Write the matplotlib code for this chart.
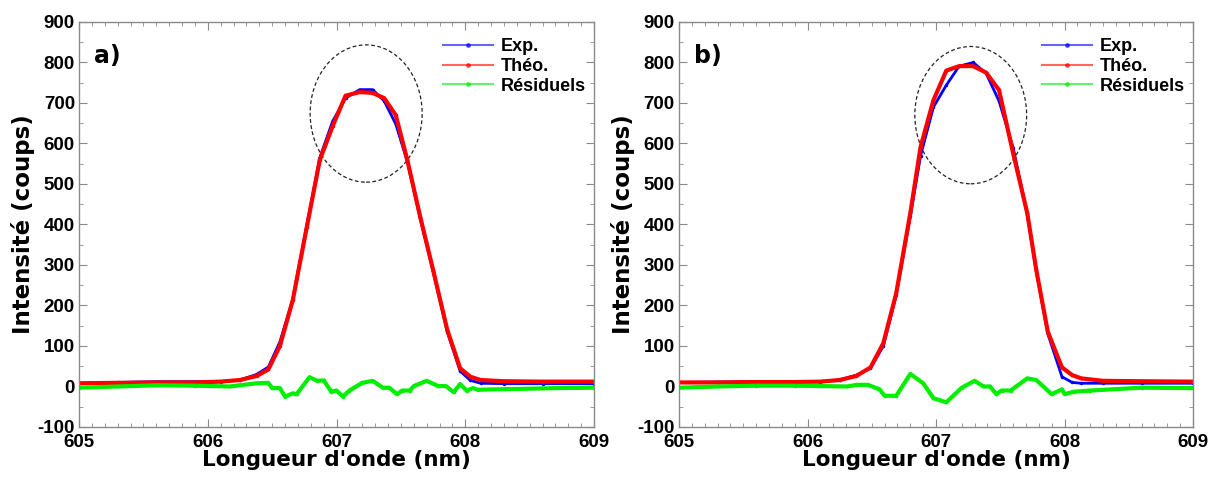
import matplotlib
matplotlib.use("Agg")
import matplotlib.pyplot as plt
from matplotlib.patches import Ellipse
from matplotlib.ticker import MultipleLocator

plt.rcParams["axes.unicode_minus"] = False

# ---- panel a) data ----
wl_a = [605.0, 605.3, 605.6, 605.9, 606.1, 606.25, 606.38, 606.47, 606.56, 606.66,
        606.77, 606.87, 606.97, 607.07, 607.18, 607.28, 607.37, 607.46, 607.55, 607.65,
        607.75, 607.86, 607.96, 608.04, 608.12, 608.3, 608.6, 609.0]
exp_a = [8, 10, 12, 12, 12, 16, 30, 48, 110, 215, 400, 565, 655, 712, 733, 733, 705, 648,
         555, 415, 285, 135, 38, 15, 8, 7, 7, 7]
theo_a = [8, 9, 10, 10, 12, 16, 26, 42, 100, 213, 395, 559, 643, 718, 727, 725, 712, 670,
          559, 419, 288, 140, 45, 24, 16, 13, 12, 12]
res_wl_a = [605.0, 605.3, 605.6, 605.9, 606.17, 606.38, 606.47, 606.50, 606.56, 606.60,
            606.66, 606.69, 606.79, 606.85, 606.90, 606.96, 607.00, 607.05, 607.10, 607.20,
            607.28, 607.36, 607.41, 607.47, 607.51, 607.57, 607.60, 607.70, 607.79, 607.85,
            607.91, 607.96, 608.01, 608.06, 608.1, 608.4, 608.7, 609.0]
res_a = [-3, 0, 3, 2, 0, 8, 9, -4, -4, -25, -17, -19, 23, 14, 15, -13, -10, -25, -10, 9,
         14, -3, -3, -19, -10, -10, 1, 14, 1, 1, -14, 6, -10, -4, -8, -6, -4, -3]

# ---- panel b) data ----
wl_b = [605.0, 605.3, 605.6, 605.9, 606.1, 606.25, 606.38, 606.49, 606.59, 606.69,
        606.80, 606.88, 606.98, 607.08, 607.18, 607.29, 607.39, 607.49, 607.60, 607.71,
        607.78, 607.87, 607.98, 608.06, 608.13, 608.3, 608.6, 609.0]
exp_b = [10, 11, 12, 12, 12, 16, 28, 45, 100, 225, 420, 570, 690, 744, 791, 800, 773, 705,
         590, 425, 285, 130, 24, 10, 8, 8, 8, 8]
theo_b = [10, 10, 11, 11, 12, 16, 26, 47, 107, 230, 428, 592, 707, 780, 791, 791, 775, 732,
          576, 428, 288, 135, 47, 28, 20, 14, 13, 12]
res_wl_b = [605.0, 605.3, 605.6, 605.9, 606.31, 606.38, 606.47, 606.56, 606.60, 606.69,
            606.80, 606.90, 606.98, 607.08, 607.20, 607.30, 607.37, 607.42, 607.47, 607.51,
            607.58, 607.71, 607.78, 607.90, 607.98, 608.00, 608.07, 608.2, 608.6, 609.0]
res_b = [-3, 0, 2, 2, 0, 4, 4, -7, -23, -23, 31, 8, -29, -39, -3, 14, 0, 0, -19, -10,
         -10, 20, 16, -19, -7, -19, -13, -10, -3, -4]

# ellipse (center x, center y, width, height) in data units
ell_a = (607.23, 674, 0.87, 339)
ell_b = (607.27, 670, 0.87, 339)

TICK_FONT = "Liberation Sans"
LABEL_FONT = "DejaVu Sans"

fig = plt.figure(figsize=(12.18, 4.78), dpi=100)
ax_a = fig.add_axes([0.0649, 0.1067, 0.4228, 0.8473])
ax_b = fig.add_axes([0.5575, 0.1067, 0.4220, 0.8473])


def draw_panel(ax, wl, exp, theo, res_wl, res, ell, tag):
    ax.plot(wl, exp, color="blue", lw=2, marker=".", ms=3, label="Exp.")
    ax.plot(wl, theo, color="red", lw=3, marker=".", ms=3, label="Théo.")
    ax.plot(res_wl, res, color="#00ee00", lw=3, marker=".", ms=3, label="Résiduels")

    # dashed ellipse around the peak
    ax.add_patch(Ellipse((ell[0], ell[1]), ell[2], ell[3], fill=False,
                         ls=(0, (3, 2)), lw=0.9, ec="#222222"))

    ax.set_xlim(605, 609)
    ax.set_ylim(-100, 900)
    ax.xaxis.set_major_locator(MultipleLocator(1))
    ax.xaxis.set_minor_locator(MultipleLocator(0.1))
    ax.yaxis.set_major_locator(MultipleLocator(100))
    ax.yaxis.set_minor_locator(MultipleLocator(50))

    for sp in ax.spines.values():
        sp.set_color("#8a8a8a")
        sp.set_linewidth(1)
    ax.tick_params(which="both", direction="in", top=True, right=True, color="#8a8a8a")
    ax.tick_params(which="major", length=6, labelsize=13.5, pad=3)
    ax.tick_params(axis="x", which="major", pad=5)
    ax.tick_params(which="minor", length=3)
    for lab in ax.get_xticklabels() + ax.get_yticklabels():
        lab.set_fontfamily(TICK_FONT)
        lab.set_fontweight("bold")

    ax.set_xlabel("Longueur d'onde (nm)", fontsize=15.5, fontweight="bold",
                  family=LABEL_FONT, labelpad=-1)
    ax.set_ylabel("Intensité (coups)", fontsize=16.5, fontweight="bold",
                  family=LABEL_FONT, labelpad=2)

    ax.text(0.03, 0.945, tag, transform=ax.transAxes, fontsize=17, fontweight="bold",
            family=LABEL_FONT, va="top", ha="left")

    leg = ax.legend(loc="upper right", bbox_to_anchor=(1.015, 1.0), frameon=False,
                    prop={"family": TICK_FONT, "weight": "bold", "size": 13},
                    handlelength=2.8, handletextpad=0.4, labelspacing=0.15)
    for h in leg.get_lines():
        h.set_linewidth(1.5)
        h.set_alpha(0.6)
        h.set_markersize(5)


draw_panel(ax_a, wl_a, exp_a, theo_a, res_wl_a, res_a, ell_a, "a)")
draw_panel(ax_b, wl_b, exp_b, theo_b, res_wl_b, res_b, ell_b, "b)")

fig.savefig("out.png", dpi=100)
